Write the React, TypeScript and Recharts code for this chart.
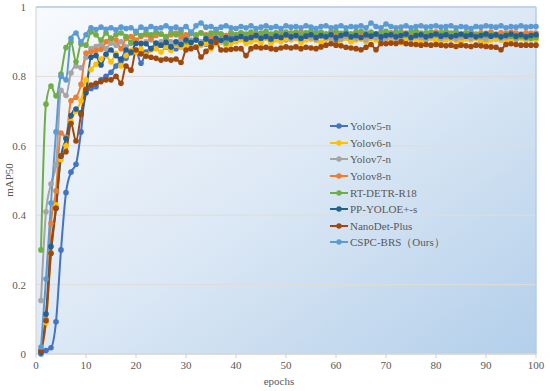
import { LineChart, Line, XAxis, YAxis, CartesianGrid, ReferenceLine, Legend } from 'recharts';

const seriesNames = ['Yolov5-n', 'Yolov6-n', 'Yolov7-n', 'Yolov8-n', 'RT-DETR-R18', 'PP-YOLOE+-s', 'NanoDet-Plus', 'CSPC-BRS（Ours）'];
const seriesKeys = ['yolov5', 'yolov6', 'yolov7', 'yolov8', 'rtdetr', 'ppyoloe', 'nanodet', 'cspc'];
const seriesColors = ['#4472C4', '#FFC000', '#A5A5A5', '#ED7D31', '#70AD47', '#255E91', '#9E480E', '#5B9BD5'];

const xTicks = [0, 10, 20, 30, 40, 50, 60, 70, 80, 90, 100];
const yTicks = [0, 0.2, 0.4, 0.6, 0.8, 1];

const yolov5 = [
  0.000, 0.010, 0.018, 0.093, 0.300, 0.465, 0.524, 0.547, 0.640, 0.760,
  0.765, 0.770, 0.790, 0.800, 0.812, 0.830, 0.845, 0.852, 0.868, 0.875,
  0.838, 0.870, 0.880, 0.885, 0.890, 0.884, 0.895, 0.880, 0.892, 0.896,
  0.900, 0.905, 0.898, 0.893, 0.905, 0.910, 0.900, 0.905, 0.912, 0.903,
  0.910, 0.904, 0.912, 0.907, 0.910, 0.916, 0.903, 0.910, 0.913, 0.906,
  0.910, 0.915, 0.904, 0.912, 0.909, 0.915, 0.918, 0.909, 0.912, 0.904,
  0.915, 0.911, 0.907, 0.915, 0.909, 0.913, 0.916, 0.910, 0.904, 0.912,
  0.910, 0.915, 0.912, 0.906, 0.910, 0.915, 0.912, 0.909, 0.915, 0.905,
  0.910, 0.915, 0.909, 0.912, 0.918, 0.910, 0.915, 0.912, 0.902, 0.915,
  0.912, 0.909, 0.915, 0.918, 0.910, 0.912, 0.915, 0.909, 0.912, 0.915,
];

const yolov6 = [
  0.005, 0.090, 0.290, 0.430, 0.560, 0.600, 0.670, 0.700, 0.730, 0.790,
  0.820, 0.835, 0.850, 0.860, 0.842, 0.866, 0.830, 0.860, 0.875, 0.870,
  0.880, 0.862, 0.876, 0.880, 0.870, 0.885, 0.875, 0.890, 0.884, 0.890,
  0.895, 0.885, 0.890, 0.895, 0.880, 0.895, 0.900, 0.888, 0.895, 0.900,
  0.905, 0.895, 0.900, 0.905, 0.898, 0.910, 0.895, 0.905, 0.900, 0.908,
  0.905, 0.910, 0.898, 0.905, 0.910, 0.904, 0.898, 0.910, 0.905, 0.890,
  0.905, 0.910, 0.900, 0.905, 0.908, 0.899, 0.910, 0.905, 0.895, 0.905,
  0.910, 0.905, 0.898, 0.910, 0.904, 0.908, 0.900, 0.905, 0.910, 0.904,
  0.900, 0.905, 0.910, 0.904, 0.898, 0.908, 0.905, 0.910, 0.904, 0.898,
  0.905, 0.910, 0.904, 0.900, 0.908, 0.905, 0.910, 0.904, 0.908, 0.905,
];

const yolov7 = [
  0.154, 0.410, 0.490, 0.545, 0.760, 0.745, 0.810, 0.830, 0.825, 0.855,
  0.880, 0.886, 0.892, 0.880, 0.896, 0.890, 0.900, 0.885, 0.895, 0.902,
  0.896, 0.900, 0.905, 0.894, 0.900, 0.910, 0.900, 0.895, 0.906, 0.910,
  0.905, 0.912, 0.900, 0.908, 0.914, 0.905, 0.910, 0.915, 0.906, 0.912,
  0.915, 0.908, 0.912, 0.916, 0.910, 0.914, 0.906, 0.915, 0.912, 0.918,
  0.910, 0.915, 0.908, 0.916, 0.912, 0.906, 0.915, 0.918, 0.910, 0.914,
  0.908, 0.915, 0.918, 0.910, 0.914, 0.905, 0.915, 0.912, 0.918, 0.910,
  0.915, 0.908, 0.914, 0.918, 0.910, 0.915, 0.912, 0.906, 0.915, 0.918,
  0.910, 0.914, 0.915, 0.908, 0.912, 0.918, 0.910, 0.915, 0.912, 0.908,
  0.915, 0.918, 0.910, 0.912, 0.915, 0.908, 0.914, 0.910, 0.912, 0.915,
];

const yolov8 = [
  0.010, 0.100, 0.377, 0.470, 0.637, 0.625, 0.730, 0.740, 0.777, 0.867,
  0.870, 0.875, 0.878, 0.900, 0.910, 0.905, 0.880, 0.910, 0.915, 0.905,
  0.915, 0.920, 0.910, 0.918, 0.922, 0.912, 0.920, 0.925, 0.915, 0.920,
  0.924, 0.918, 0.925, 0.920, 0.915, 0.925, 0.922, 0.918, 0.926, 0.920,
  0.925, 0.918, 0.922, 0.926, 0.920, 0.925, 0.918, 0.924, 0.928, 0.920,
  0.925, 0.922, 0.928, 0.918, 0.925, 0.920, 0.926, 0.922, 0.928, 0.924,
  0.920, 0.926, 0.922, 0.928, 0.925, 0.918, 0.926, 0.922, 0.928, 0.924,
  0.926, 0.920, 0.928, 0.925, 0.922, 0.928, 0.924, 0.920, 0.926, 0.928,
  0.922, 0.926, 0.924, 0.928, 0.920, 0.925, 0.928, 0.922, 0.926, 0.924,
  0.928, 0.922, 0.926, 0.924, 0.928, 0.925, 0.922, 0.926, 0.924, 0.925,
];

const rtdetr = [
  0.300, 0.720, 0.772, 0.744, 0.807, 0.883, 0.900, 0.842, 0.893, 0.890,
  0.928, 0.920, 0.905, 0.925, 0.910, 0.920, 0.925, 0.915, 0.898, 0.925,
  0.918, 0.926, 0.920, 0.928, 0.922, 0.915, 0.926, 0.920, 0.928, 0.900,
  0.924, 0.920, 0.926, 0.918, 0.925, 0.928, 0.922, 0.896, 0.925, 0.920,
  0.926, 0.922, 0.928, 0.920, 0.925, 0.930, 0.922, 0.926, 0.920, 0.928,
  0.924, 0.928, 0.920, 0.926, 0.930, 0.924, 0.928, 0.922, 0.926, 0.930,
  0.924, 0.928, 0.922, 0.926, 0.930, 0.925, 0.928, 0.922, 0.926, 0.930,
  0.924, 0.928, 0.926, 0.920, 0.928, 0.930, 0.924, 0.926, 0.928, 0.922,
  0.926, 0.930, 0.924, 0.928, 0.920, 0.926, 0.924, 0.920, 0.922, 0.918,
  0.922, 0.918, 0.915, 0.920, 0.916, 0.912, 0.915, 0.912, 0.910, 0.912,
];

const ppyoloe = [
  0.005, 0.115, 0.310, 0.420, 0.570, 0.620, 0.687, 0.706, 0.695, 0.753,
  0.855, 0.860, 0.833, 0.864, 0.876, 0.860, 0.850, 0.876, 0.870, 0.895,
  0.895, 0.894, 0.880, 0.896, 0.890, 0.898, 0.885, 0.900, 0.892, 0.905,
  0.898, 0.905, 0.895, 0.908, 0.900, 0.910, 0.904, 0.912, 0.906, 0.910,
  0.915, 0.908, 0.912, 0.918, 0.910, 0.915, 0.908, 0.916, 0.912, 0.920,
  0.914, 0.918, 0.910, 0.916, 0.920, 0.912, 0.918, 0.914, 0.920, 0.912,
  0.918, 0.922, 0.914, 0.918, 0.912, 0.920, 0.916, 0.922, 0.914, 0.918,
  0.920, 0.914, 0.918, 0.922, 0.912, 0.918, 0.920, 0.914, 0.918, 0.922,
  0.916, 0.920, 0.914, 0.918, 0.922, 0.916, 0.920, 0.914, 0.918, 0.922,
  0.916, 0.920, 0.914, 0.918, 0.922, 0.916, 0.920, 0.914, 0.918, 0.920,
];

const nanodet = [
  0.010, 0.096, 0.290, 0.420, 0.571, 0.583, 0.664, 0.614, 0.690, 0.763,
  0.775, 0.780, 0.785, 0.790, 0.790, 0.800, 0.780, 0.830, 0.818, 0.876,
  0.865, 0.858, 0.855, 0.852, 0.847, 0.850, 0.847, 0.850, 0.840, 0.876,
  0.880, 0.884, 0.856, 0.872, 0.885, 0.898, 0.876, 0.876, 0.878, 0.880,
  0.880, 0.860, 0.880, 0.885, 0.882, 0.884, 0.880, 0.878, 0.882, 0.885,
  0.882, 0.885, 0.880, 0.884, 0.882, 0.880, 0.885, 0.890, 0.894, 0.890,
  0.888, 0.884, 0.882, 0.880, 0.877, 0.884, 0.892, 0.877, 0.895, 0.894,
  0.896, 0.895, 0.900, 0.894, 0.893, 0.892, 0.890, 0.892, 0.890, 0.892,
  0.890, 0.888, 0.890, 0.886, 0.890, 0.888, 0.886, 0.890, 0.888, 0.886,
  0.885, 0.884, 0.877, 0.892, 0.894, 0.892, 0.890, 0.890, 0.890, 0.890,
];

const cspc = [
  0.020, 0.216, 0.435, 0.640, 0.800, 0.790, 0.910, 0.925, 0.900, 0.920,
  0.940, 0.935, 0.942, 0.936, 0.940, 0.934, 0.942, 0.938, 0.940, 0.930,
  0.942, 0.936, 0.944, 0.938, 0.940, 0.946, 0.938, 0.942, 0.935, 0.944,
  0.928, 0.946, 0.954, 0.942, 0.944, 0.936, 0.942, 0.946, 0.940, 0.938,
  0.944, 0.940, 0.946, 0.938, 0.942, 0.946, 0.940, 0.944, 0.938, 0.946,
  0.942, 0.944, 0.940, 0.946, 0.942, 0.938, 0.944, 0.946, 0.940, 0.942,
  0.946, 0.940, 0.944, 0.942, 0.946, 0.940, 0.954, 0.944, 0.940, 0.951,
  0.944, 0.940, 0.942, 0.946, 0.940, 0.944, 0.946, 0.942, 0.944, 0.946,
  0.942, 0.944, 0.946, 0.940, 0.944, 0.942, 0.938, 0.944, 0.942, 0.946,
  0.944, 0.942, 0.946, 0.940, 0.944, 0.942, 0.946, 0.942, 0.944, 0.944,
];

const seriesValues = [yolov5, yolov6, yolov7, yolov8, rtdetr, ppyoloe, nanodet, cspc];

const data = yolov5.map((_, i) => {
  const row: Record<string, number> = { epoch: i + 1 };
  seriesKeys.forEach((k, s) => {
    row[k] = seriesValues[s][i];
  });
  return row;
});

const font = '"Liberation Serif", "Times New Roman", serif';
const textColor = '#595959';

function LegendBox() {
  return (
    <div style={{ fontFamily: font, fontSize: 11, color: textColor }}>
      {seriesNames.map((name, i) => (
        <div key={name} style={{ display: 'flex', alignItems: 'center', height: 16.6 }}>
          <svg width={20} height={8} style={{ marginRight: 1 }}>
            <line x1={1} y1={4} x2={19} y2={4} stroke={seriesColors[i]} strokeWidth={2} />
            <circle cx={10} cy={4} r={2.7} fill={seriesColors[i]} />
          </svg>
          <span style={{ whiteSpace: 'nowrap' }}>{name}</span>
        </div>
      ))}
    </div>
  );
}

export default function App() {
  return (
    <div style={{ position: 'absolute', left: 0, top: 0, background: '#fff' }}>
      <LineChart width={550} height={391} data={data} margin={{ top: 7, right: 14, bottom: 0, left: 0 }}>
        <defs>
          <linearGradient id="plotBg" x1="0" y1="0" x2="1" y2="1">
            <stop offset="0%" stopColor="#f8fafd" />
            <stop offset="50%" stopColor="#dce8f5" />
            <stop offset="100%" stopColor="#b3cfea" />
          </linearGradient>
        </defs>
        <CartesianGrid vertical={false} stroke="#e2dcd6" fill="url(#plotBg)" fillOpacity={1} />
        <XAxis
          dataKey="epoch"
          type="number"
          domain={[0, 100]}
          ticks={xTicks}
          height={37}
          stroke="#d0d0d0"
          tickSize={4}
          tick={{ fill: textColor, fontSize: 11, fontFamily: font }}
          tickMargin={3}
          label={() => (
            <text x={279} y={385} textAnchor="middle" fill={textColor} fontSize={11} fontFamily={font}>
              epochs
            </text>
          )}
        />
        <YAxis
          type="number"
          domain={[0, 1]}
          ticks={yTicks}
          width={36}
          stroke="#d0d0d0"
          tickSize={0}
          tickMargin={10}
          tick={{ fill: textColor, fontSize: 11, fontFamily: font }}
          label={() => (
            <text x={13} y={180} textAnchor="middle" transform="rotate(-90 13 180)" fill={textColor} fontSize={11} fontFamily={font}>
              mAP50
            </text>
          )}
        />
        <ReferenceLine y={1} stroke="#b3cde9" strokeWidth={1.5} />
        <ReferenceLine x={100} stroke="#b3cde9" strokeWidth={1.5} />
        {seriesKeys.map((k, i) => (
          <Line
            key={k}
            dataKey={k}
            name={seriesNames[i]}
            type="monotone"
            stroke={seriesColors[i]}
            strokeWidth={2}
            dot={{ r: 2.8, fill: seriesColors[i], stroke: 'none' }}
            activeDot={false}
            isAnimationActive={false}
          />
        ))}
        <Legend
          layout="vertical"
          align="center"
          verticalAlign="middle"
          content={() => <LegendBox />}
          wrapperStyle={{ left: 329, top: 118, width: 'auto' }}
        />
      </LineChart>
    </div>
  );
}
